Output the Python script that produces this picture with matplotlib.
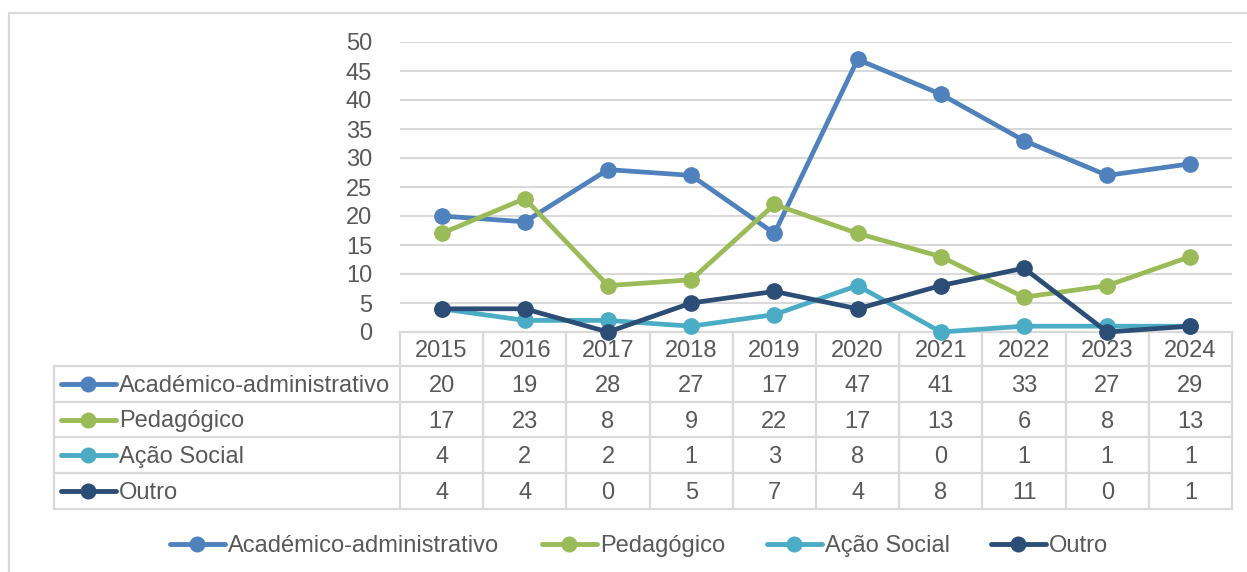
import matplotlib.pyplot as plt
from matplotlib.transforms import blended_transform_factory

# dados
anos = ['2015', '2016', '2017', '2018', '2019', '2020', '2021', '2022', '2023', '2024']
series = ['Académico-administrativo', 'Pedagógico', 'Ação Social', 'Outro']
academico = [20, 19, 28, 27, 17, 47, 41, 33, 27, 29]
pedagogico = [17, 23, 8, 9, 22, 17, 13, 6, 8, 13]
acao_social = [4, 2, 2, 1, 3, 8, 0, 1, 1, 1]
outro = [4, 4, 0, 5, 7, 4, 8, 11, 0, 1]
valores = [academico, pedagogico, acao_social, outro]
cores = ['#4F81BD', '#9BBB59', '#4BACC6', '#2C4D75']

W, H = 1247, 572
TXT = '#595959'
GRID = '#D9D9D9'
FS = 17
DY = 2  # pequeno ajuste vertical do texto
plt.rcParams['font.family'] = ['Liberation Sans', 'DejaVu Sans']

fig = plt.figure(figsize=(W / 100, H / 100), dpi=100)

# fundo em pixeis (para tabela, legenda e moldura)
bg = fig.add_axes([0, 0, 1, 1])
bg.set_xlim(0, W)
bg.set_ylim(H, 0)
bg.axis('off')

# moldura do gráfico
bg.plot([9, 9, W + 5], [H + 5, 13, 13], color=GRID, lw=1.6)

# área do gráfico
x0, x1 = 400, 1232
y_top, y_zero = 42, 332
ax = fig.add_axes([x0 / W, (H - y_zero) / H, (x1 - x0) / W, (y_zero - y_top) / H])
ax.set_xlim(-0.5, len(anos) - 0.5)
ax.set_ylim(0, 50)
ax.set_yticks(range(0, 51, 5))
ax.set_xticks([])
for s in ax.spines.values():
    s.set_visible(False)
for v in range(5, 51, 5):
    ax.axhline(v, color=GRID, lw=1.5, zorder=1)
ax.tick_params(axis='y', length=0, labelsize=FS, labelcolor=TXT, pad=20)
ax.patch.set_alpha(0)

xs = list(range(len(anos)))
for vals, c in zip(valores, cores):
    ax.plot(xs, vals, color=c, lw=3.4, marker='o', ms=11, clip_on=False, zorder=3)

# tabela de dados
tr = blended_transform_factory(ax.transData, bg.transData)
linhas_y = [332, 366, 402, 437, 473, 509]
lab_x0 = 54
# linhas horizontais
bg.plot([x0, x1], [linhas_y[0], linhas_y[0]], color=GRID, lw=1.6, zorder=2)
for y in linhas_y[1:]:
    bg.plot([lab_x0, x1], [y, y], color=GRID, lw=1.6, zorder=2)
# linhas verticais
bg.plot([lab_x0, lab_x0], [linhas_y[1], linhas_y[-1]], color=GRID, lw=1.6)
for i in range(len(anos) + 1):
    ax.plot([i - 0.5, i - 0.5], [linhas_y[0], linhas_y[-1]], color=GRID, lw=1.6,
            transform=tr, clip_on=False)

for i, a in enumerate(anos):
    ax.text(i, (linhas_y[0] + linhas_y[1]) / 2 + DY, a, transform=tr, ha='center',
            va='center', fontsize=FS, color=TXT)

for r, (nome, vals, c) in enumerate(zip(series, valores, cores)):
    yc = (linhas_y[r + 1] + linhas_y[r + 2]) / 2
    bg.plot([61, 116], [yc, yc], color=c, lw=3.5, solid_capstyle='round')
    bg.plot([88], [yc], 'o', color=c, ms=10.5)
    bg.text(119, yc + DY, nome, ha='left', va='center', fontsize=FS, color=TXT)
    for i, v in enumerate(vals):
        ax.text(i, yc + DY, str(v), transform=tr, ha='center', va='center',
                fontsize=FS, color=TXT)

# legenda inferior
leg_y = 544
leg_x = [170, 542, 767, 991]
for nome, c, lx in zip(series, cores, leg_x):
    bg.plot([lx, lx + 55], [leg_y, leg_y], color=c, lw=3.5, solid_capstyle='round')
    bg.plot([lx + 27], [leg_y], 'o', color=c, ms=10.5)
    bg.text(lx + 58, leg_y + DY, nome, ha='left', va='center', fontsize=FS, color=TXT)

fig.savefig('out.png', dpi=100)
